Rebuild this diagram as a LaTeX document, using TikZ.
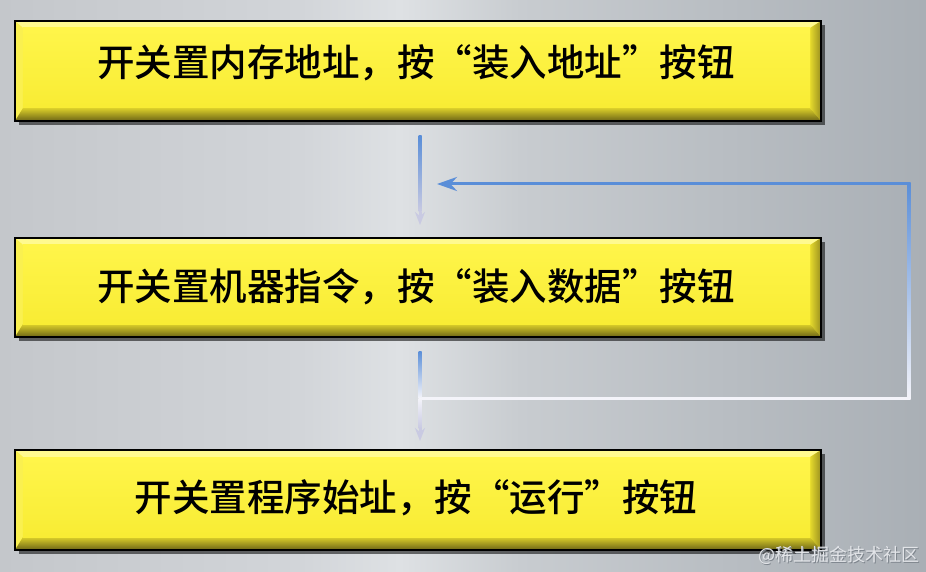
\documentclass[tikz,border=0pt]{standalone}
\usepackage{fontspec}
\newfontfamily\cjk{Noto Sans CJK SC}[BoldFont={Noto Sans CJK SC Medium}]
\usetikzlibrary{arrows.meta,calc,shadows}
\definecolor{bgA}{HTML}{C4C7CB}
\definecolor{bgB}{HTML}{D2D5D9}
\definecolor{bgC}{HTML}{DEE1E4}
\definecolor{bgD}{HTML}{C8CCD0}
\definecolor{bgE}{HTML}{A9AFB5}
\definecolor{faceA}{HTML}{FFF54A}
\definecolor{faceB}{HTML}{F8EC34}
\definecolor{topbev}{HTML}{FFFA90}
\definecolor{leftbev}{HTML}{FAF050}
\definecolor{rbevin}{HTML}{E6DA2C}
\definecolor{rbevout}{HTML}{9A9020}
\definecolor{bbevin}{HTML}{DCD02A}
\definecolor{bbevout}{HTML}{6C6416}
\definecolor{lineblue}{HTML}{5A8ED8}
\definecolor{linewhite}{HTML}{F4F4FA}
\definecolor{linelav}{HTML}{C9CAE2}
\definecolor{wmark}{HTML}{E2E4E8}
\definecolor{wshadow}{HTML}{7E858D}
\tikzset{
  ybox/.style={rectangle, minimum width=806bp, inner sep=0pt, draw=black,
    line width=2bp, fill=faceA,
    drop shadow={shadow xshift=4bp, shadow yshift=-4bp, fill=black, opacity=0.55},
    path picture={
      \coordinate (nw) at (path picture bounding box.north west);
      \coordinate (ne) at (path picture bounding box.north east);
      \coordinate (se) at (path picture bounding box.south east);
      \coordinate (sw) at (path picture bounding box.south west);
      \coordinate (inw) at ($(nw)+(8bp,-7bp)$);
      \coordinate (ine) at ($(ne)+(-11bp,-7bp)$);
      \coordinate (ise) at ($(se)+(-11bp,13bp)$);
      \coordinate (isw) at ($(sw)+(8bp,13bp)$);
      \fill[topbev] (nw) -- (ne) -- (ine) -- (inw) -- cycle;
      \fill[leftbev] (nw) -- (inw) -- (isw) -- (sw) -- cycle;
      \shade[left color=rbevin, right color=rbevout] (ne) -- (se) -- (ise) -- (ine) -- cycle;
      \shade[top color=bbevin, bottom color=bbevout] (sw) -- (se) -- (ise) -- (isw) -- cycle;
      \shade[top color=faceA, bottom color=faceB] (inw) rectangle (ise);
    }},
  ytext/.style={inner sep=0pt, font=\cjk\bfseries\fontsize{37.5bp}{40bp}\selectfont, text=black},
  flowline/.style={line width=3bp},
}
\begin{document}
\begin{tikzpicture}[x=1bp,y=-1bp]
% background
\useasboundingbox (0,0) rectangle (926,572);
\shade[left color=bgA, right color=bgB] (0,0) rectangle (300,572);
\shade[left color=bgB, right color=bgC] (300,0) rectangle (400,572);
\shade[left color=bgC, right color=bgD] (400,0) rectangle (520,572);
\shade[left color=bgD, right color=bgE] (520,0) rectangle (926,572);

% boxes
\node[ybox, minimum height=100bp] (b1) at (418,71) {};
\node[ybox, minimum height=99bp] (b2) at (418,287.5) {};
\node[ybox, minimum height=100bp] (b3) at (418,500) {};
\node[ytext] (t1) at (416,63) {开关置内存地址，按“装入地址”按钮};
\node[ytext] (t2) at (416,287) {开关置机器指令，按“装入数据”按钮};
\node[ytext] (t3) at (416,498) {开关置程序始址，按“运行”按钮};

% connector points
\coordinate (a1s) at (420,136);
\coordinate (a1m) at (420,212);
\coordinate (a1e) at (420,225);
\coordinate (fbR) at (909,184);
\coordinate (fbB) at (909,398);
\coordinate (fbT) at (437,184);
\coordinate (jn) at (420,398);
\coordinate (a2s) at (420,351);
\coordinate (a2m) at (420,428);
\coordinate (a2e) at (420,441);

% arrow 1 (box 1 -> box 2)
\shade[top color=lineblue, bottom color=linelav] ($(a1s)+(-1.5,0)$) rectangle ($(a1m)+(1.5,0)$);
\draw[flowline, linelav, -{Stealth[length=13bp, width=10bp]}] (a1m) -- (a1e);

% feedback loop
\draw[flowline, linewhite] (jn) -- (fbB);
\shade[top color=lineblue, bottom color=linewhite] ($(fbR)+(-1.5,-1.5)$) rectangle ($(fbB)+(1.5,1.5)$);
\draw[flowline, lineblue, -{Stealth[length=20bp, width=14bp]}] (fbR) -- (fbT);

% arrow 2 (box 2 -> box 3)
\shade[top color=lineblue, bottom color=linewhite] ($(a2s)+(-1.5,0)$) rectangle ($(jn)+(1.5,0)$);
\shade[top color=linewhite, bottom color=linelav] ($(jn)+(-1.5,0)$) rectangle ($(a2m)+(1.5,0)$);
\draw[flowline, linelav, -{Stealth[length=13bp, width=10bp]}] (a2m) -- (a2e);

% watermark
\node[font=\cjk\fontsize{18bp}{20bp}\selectfont, text=wshadow, inner sep=0pt] (wms) at (840,556) {@稀土掘金技术社区};
\node[font=\cjk\fontsize{18bp}{20bp}\selectfont, text=wmark, inner sep=0pt] (wm) at (839,555) {@稀土掘金技术社区};
\end{tikzpicture}
\end{document}
